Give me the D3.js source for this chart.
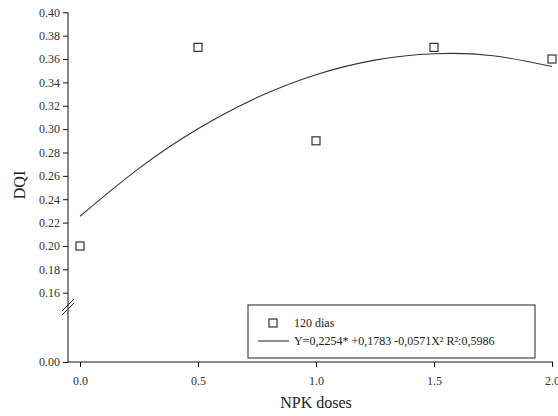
<!DOCTYPE html>
<html>
<head>
<meta charset="utf-8">
<script src="https://cdn.jsdelivr.net/npm/d3@7"></script>
<style>
  body { margin: 0; background: #fff; }
  svg text { font-family: "Liberation Serif", "Times New Roman", serif; fill: #222; }
</style>
</head>
<body>
<div id="chart"></div>
<script>
// observed points (120 dias)
const doses = [0, 0.5, 1.0, 1.5, 2.0];
const dqi = [0.20, 0.37, 0.29, 0.37, 0.36];

// fitted curve
const curveX = [0, 0.25, 0.5, 0.75, 1.0, 1.25, 1.5, 1.75, 2.0];
const curveY = [0.2254, 0.2664, 0.3003, 0.3270, 0.3466, 0.3591, 0.3645, 0.3628, 0.3536];

const xTicks = [0, 0.5, 1.0, 1.5, 2.0];
const yTicks = [0.00, 0.16, 0.18, 0.20, 0.22, 0.24, 0.26, 0.28, 0.30, 0.32, 0.34, 0.36, 0.38, 0.40];

const seriesLabel = "120 dias";
const fitLabel = "Y=0,2254* +0,1783 -0,0571X\u00b2 R\u00b2:0,5986";

const W = 558, H = 416;
const axisX = 68, axisY = 362;
const serif = "'Liberation Serif', 'Times New Roman', serif";

const svg = d3.select("#chart").append("svg")
    .attr("width", W)
    .attr("height", H);

const x = d3.scaleLinear().domain([0, 2]).range([80, 552]);
// broken y axis: 0 at bottom, then 0.16..0.40 above the break
const y = d3.scaleLinear().domain([0, 0.16, 0.40]).range([axisY, 292.7, 12.3]);

// axes
const xAxis = svg.append("g")
    .attr("transform", `translate(0,${axisY})`)
    .call(d3.axisBottom(x).tickValues(xTicks).tickFormat(d3.format(".1f")).tickSizeOuter(0).tickSize(5));
xAxis.select(".domain").attr("d", `M${axisX},0H553`);

const yAxis = svg.append("g")
    .attr("transform", `translate(${axisX},0)`)
    .call(d3.axisLeft(y).tickValues(yTicks).tickFormat(d3.format(".2f")).tickSizeOuter(0).tickSize(5));
yAxis.select(".domain").attr("d", `M0,${y(0.40)}V${axisY}`);

[xAxis, yAxis].forEach(g => g.attr("font-family", serif).attr("font-size", 12));
svg.selectAll(".tick text")
    .style("font-family", serif)
    .style("font-size", "12px")
    .style("fill", "#333");
xAxis.selectAll(".tick text").attr("dy", "1.25em");
svg.selectAll(".domain, .tick line").attr("stroke", "#111");

// break marks
[-2, 2].forEach(o => {
    svg.append("line")
        .attr("x1", axisX - 6).attr("y1", 313 + o)
        .attr("x2", axisX + 6).attr("y2", 301 + o)
        .attr("stroke", "#333")
        .attr("stroke-width", 1);
});

// fitted line
const line = d3.line()
    .x((d, i) => x(curveX[i]))
    .y(d => y(d))
    .curve(d3.curveNatural);

svg.append("path")
    .datum(curveY)
    .attr("d", line)
    .attr("fill", "none")
    .attr("stroke", "#333")
    .attr("stroke-width", 1.1);

// points
svg.selectAll("rect.pt")
    .data(doses)
    .enter()
    .append("rect")
    .attr("class", "pt")
    .attr("x", d => x(d) - 4)
    .attr("y", (d, i) => y(dqi[i]) - 4)
    .attr("width", 8)
    .attr("height", 8)
    .attr("fill", "#fff")
    .attr("stroke", "#333")
    .attr("stroke-width", 1.2);

// axis titles
svg.append("text")
    .attr("text-anchor", "middle")
    .attr("x", 316)
    .attr("y", 408)
    .style("font-size", "16px")
    .text("NPK doses");

svg.append("text")
    .attr("text-anchor", "middle")
    .attr("transform", "rotate(-90)")
    .attr("x", -185)
    .attr("y", 25)
    .style("font-size", "16px")
    .text("DQI");

// legend
const legend = svg.append("g").attr("transform", "translate(248,305)");
legend.append("rect")
    .attr("width", 287)
    .attr("height", 53)
    .attr("fill", "#fff")
    .attr("stroke", "#222")
    .attr("stroke-width", 1);

legend.append("rect")
    .attr("x", 21).attr("y", 14)
    .attr("width", 8).attr("height", 8)
    .attr("fill", "#fff")
    .attr("stroke", "#333")
    .attr("stroke-width", 1.2);
legend.append("text")
    .attr("x", 46).attr("y", 18)
    .attr("dy", "0.35em")
    .style("font-size", "12px")
    .text(seriesLabel);

legend.append("line")
    .attr("x1", 10).attr("x2", 41)
    .attr("y1", 36).attr("y2", 36)
    .attr("stroke", "#222");
legend.append("text")
    .attr("x", 46).attr("y", 36)
    .attr("dy", "0.35em")
    .style("font-size", "12px")
    .text(fitLabel);
</script>
</body>
</html>
